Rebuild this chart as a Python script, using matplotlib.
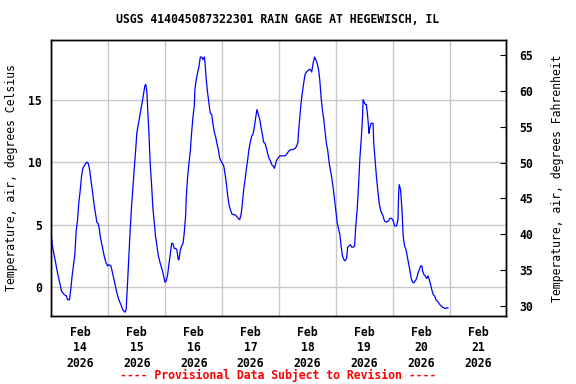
import matplotlib
matplotlib.use("Agg")
from matplotlib import pyplot as plt
import matplotlib.dates as mdates
import numpy as np
import pandas as pd

# hours after 2026-02-14 00:00 and air temperature (deg C)
hours = [0.0, 0.3, 1.1, 2.0, 2.8, 3.7, 4.2, 5.4, 6.3, 6.8, 7.6, 8.2, 8.7, 9.3, 9.9,
         10.4, 11.0, 11.5, 12.1, 12.7, 13.2, 14.1, 14.9, 15.5, 16.1, 16.6, 17.2, 17.7,
         18.3, 18.9, 19.1, 19.7, 20.3, 20.8, 21.4, 22.0, 22.5, 23.1, 23.7, 24.2, 25.1,
         25.9, 26.8, 27.6, 28.4, 29.3, 30.1, 31.0, 31.5, 32.1, 32.7, 33.2, 33.8, 34.4,
         34.9, 35.5, 36.0, 36.6, 37.2, 37.7, 38.3, 38.9, 39.4, 39.8, 40.3, 40.6, 41.1,
         41.7, 42.2, 42.8, 43.4, 43.9, 44.5, 45.1,
         45.9, 46.7, 47.3, 47.9, 48.4, 49.0, 49.6, 50.1, 50.7, 51.2, 51.8, 52.4, 52.9,
         53.5, 53.8, 54.3, 54.9, 55.5, 56.0, 56.6, 56.9, 57.4, 58.0, 58.6, 59.1, 59.7,
         60.3, 60.5, 61.1, 61.7, 62.2, 62.8, 63.4, 63.9, 64.5, 64.8, 65.3, 65.9, 66.5,
         67.0, 67.6, 68.1, 68.7, 69.3, 69.8, 70.4, 71.0, 71.5, 72.1, 72.7, 73.2, 73.8,
         74.3, 74.9, 75.5, 76.0, 76.6, 77.4, 78.0, 78.8, 79.4, 80.0, 80.5, 81.1, 81.7,
         82.2, 82.8, 83.3, 83.9, 84.5, 85.0, 85.6, 86.2, 86.7, 87.3, 87.9, 88.4, 89.0,
         89.5, 90.1, 90.7, 91.2, 91.8, 92.4, 92.9, 93.5, 94.1,
         94.9, 95.5, 96.4, 97.4, 98.6, 99.1, 100.2, 101.1, 101.9, 102.8, 103.4, 104.0,
         104.2, 104.8, 105.3, 105.9, 106.5, 107.0, 107.6, 108.1, 108.7, 109.3, 109.8,
         110.4, 111.0, 111.5, 112.1, 112.7, 113.2, 113.8, 114.3, 114.9, 115.5, 116.0,
         116.6, 117.2, 117.7, 118.3, 118.9, 119.4, 120.0, 120.6, 121.1, 121.7, 122.2,
         122.8, 123.4, 123.9, 124.5, 125.0, 125.6, 126.2, 126.7, 127.3, 127.9, 128.4,
         129.0, 129.6, 130.1, 130.7, 131.2, 131.5, 132.1, 132.6, 132.9, 133.5, 134.0,
         134.3, 134.9, 135.7, 136.0, 136.6, 137.1, 137.7, 138.3, 138.8, 139.4, 139.9,
         140.5, 141.4,
         142.2, 142.8, 143.6, 144.2, 144.8, 145.6, 146.2, 146.5, 146.7, 147.3, 147.9,
         148.4, 149.0, 149.6, 150.1, 150.7, 151.3, 151.8, 152.4, 152.9, 153.5, 154.1,
         154.6, 155.2, 155.8, 156.3, 156.6, 157.2, 157.7, 158.3, 158.9, 159.4, 160.0,
         160.5, 161.1, 161.7, 162.2, 162.8, 163.4, 163.9, 164.5, 165.0, 165.6, 166.2,
         166.7, 167.3]
temp_c = [4.1, 3.4, 2.6, 1.7, 0.9, 0.2, -0.3, -0.6, -0.7, -1.0, -1.0, -0.05, 0.9, 1.8, 2.7,
          4.5, 5.4, 6.7, 7.7, 8.9, 9.5, 9.8, 10.0, 9.9, 9.4, 8.6, 7.8, 7.0,
          6.2, 5.5, 5.2, 5.1, 4.5, 3.8, 3.3, 2.7, 2.3, 1.9, 1.7, 1.8, 1.7,
          1.0, 0.2, -0.45, -1.0, -1.4, -1.8, -2.0, -1.8, 0.35, 2.7, 4.6, 6.5, 8.1,
          9.4, 10.9, 12.3, 13.0, 13.6, 14.2, 14.8, 15.5, 16.1, 16.2, 15.5, 14.2, 12.4,
          9.7, 8.3, 6.3, 5.1, 4.1, 3.3, 2.5,
          1.9, 1.4, 0.9, 0.4, 0.5, 1.0, 1.9, 2.7, 3.5, 3.5, 3.1, 3.1, 3.0,
          2.2, 2.2, 2.9, 3.3, 3.5, 4.3, 5.7, 7.3, 8.7, 9.9, 10.9, 12.3, 13.6,
          14.6, 15.8, 16.6, 17.2, 17.6, 18.4, 18.4, 18.2, 18.4, 17.9, 16.6, 15.5, 14.6,
          13.9, 13.8, 13.1, 12.4, 12.0, 11.5, 11.0, 10.3, 10.1, 9.9, 9.7, 9.1, 8.3,
          7.4, 6.6, 6.2, 5.9, 5.8, 5.8, 5.7, 5.5, 5.4, 5.8, 6.6, 7.8, 8.6,
          9.4, 10.2, 11.0, 11.6, 12.1, 12.2, 12.8, 13.6, 14.2, 13.8, 13.4, 12.8, 12.2,
          11.6, 11.5, 11.1, 10.7, 10.3, 10.1, 9.8, 9.7, 9.5,
          10.1, 10.3, 10.5, 10.5, 10.5, 10.6, 10.9, 11.0, 11.0, 11.1, 11.25, 11.6,
          12.3, 13.6, 14.7, 15.6, 16.4, 17.0, 17.2, 17.3, 17.4, 17.4, 17.2,
          17.9, 18.4, 18.2, 17.9, 17.4, 16.6, 15.1, 14.2, 13.4, 12.4, 11.5,
          10.9, 9.9, 9.4, 8.7, 7.9, 7.1, 6.1, 5.1, 4.7, 4.2, 3.3,
          2.5, 2.2, 2.1, 2.3, 3.2, 3.3, 3.4, 3.2, 3.2, 3.3, 4.9,
          6.2, 8.2, 10.2, 11.8, 13.4, 15.0, 14.7, 14.6, 14.6, 13.5, 12.3,
          12.7, 13.1, 13.1, 11.5, 10.1, 8.9, 7.7, 6.7, 6.2, 5.9, 5.7,
          5.3, 5.2,
          5.3, 5.5, 5.5, 5.3, 4.9, 4.9, 5.4, 7.5, 8.2, 7.8, 6.2,
          4.1, 3.3, 3.0, 2.5, 1.9, 1.3, 0.7, 0.4, 0.35, 0.5, 0.7,
          1.1, 1.4, 1.7, 1.7, 1.3, 1.0, 0.9, 0.7, 0.9, 0.6, 0.2,
          -0.2, -0.6, -0.7, -1.0, -1.1, -1.25, -1.4, -1.5, -1.6, -1.65, -1.7,
          -1.65, -1.65]

title = "USGS 414045087322301 RAIN GAGE AT HEGEWISCH, IL"
c_ticks = [0, 5, 10, 15]
f_ticks = [30, 35, 40, 45, 50, 55, 60, 65]

plt.rcParams['font.family'] = 'DejaVu Sans Mono'
plt.rcParams['font.weight'] = 'bold'
plt.rcParams['font.size'] = 8.3

start = pd.Timestamp("2026-02-14")
times = start + pd.to_timedelta(hours, unit="h")

fig = plt.figure(figsize=(5.76, 3.84), dpi=100)
ax = fig.add_axes([0.0894, 0.1771, 0.7899, 0.72])
ax.plot(times, temp_c, color="#0000ff", lw=0.9)

ax.set_xlim(start, start + pd.Timedelta(days=8))
ax.set_ylim(-2.3, 19.8)
ax.set_yticks(c_ticks)
ax.grid(True, color="#c8c8c8", lw=1.0)
ax.set_axisbelow(True)

ax.xaxis.set_major_locator(mdates.DayLocator())
ax.xaxis.set_major_formatter(plt.NullFormatter())
ax.xaxis.set_minor_locator(mdates.HourLocator(byhour=[12]))
ax.xaxis.set_minor_formatter(mdates.DateFormatter("%b\n%d\n%Y"))
ax.tick_params(axis="x", which="both", length=0, pad=7)
ax.tick_params(axis="y", length=0, pad=7)
for lbl in ax.xaxis.get_minorticklabels():
    lbl.set_linespacing(1.25)

ax.set_ylabel("Temperature, air, degrees Celsius", labelpad=7)

ax2 = ax.twinx()
ax2.set_ylim(28.56, 67.19)
ax2.set_yticks(f_ticks)
ax2.tick_params(axis="y", direction="in", length=4, pad=9)
ax2.set_ylabel("Temperature, air, degrees Fahrenheit", labelpad=13)

for a in (ax, ax2):
    for s in a.spines.values():
        s.set_linewidth(1.0)
        s.set_color("black")

fig.text(0.482, 0.95, title, ha="center", va="center")
fig.text(0.482, 0.023, "---- Provisional Data Subject to Revision ----",
         ha="center", va="center", color="red")

fig.savefig("out.png", dpi=100)
